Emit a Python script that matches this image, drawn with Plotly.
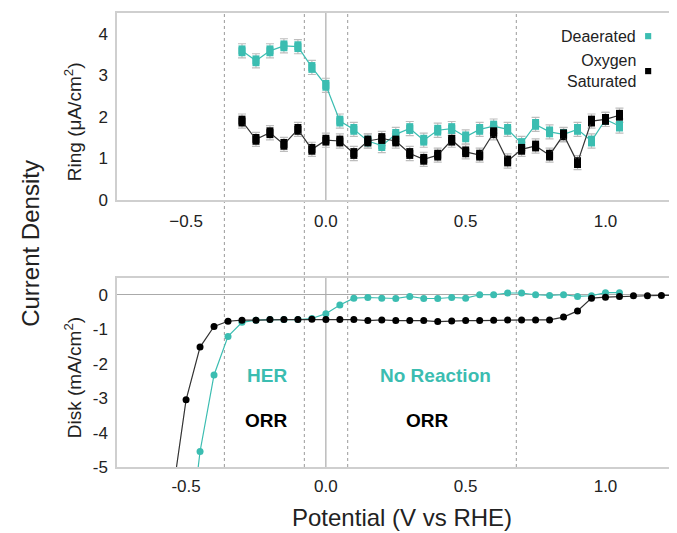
import plotly.graph_objects as go

# ---------------- data ----------------
ring_x = [-0.30, -0.25, -0.20, -0.15, -0.10, -0.05, 0.00, 0.05, 0.10, 0.15,
          0.20, 0.25, 0.30, 0.35, 0.40, 0.45, 0.50, 0.55, 0.60, 0.65,
          0.70, 0.75, 0.80, 0.85, 0.90, 0.95, 1.00, 1.05]
ring_deaerated = [3.59, 3.35, 3.59, 3.71, 3.69, 3.19, 2.76, 1.90, 1.70, 1.42,
                  1.31, 1.58, 1.72, 1.44, 1.68, 1.72, 1.52, 1.70, 1.78, 1.70,
                  1.36, 1.82, 1.64, 1.58, 1.70, 1.42, 1.94, 1.78]
ring_oxygen = [1.90, 1.46, 1.62, 1.34, 1.70, 1.22, 1.44, 1.42, 1.12, 1.42,
               1.48, 1.42, 1.12, 0.98, 1.08, 1.44, 1.16, 1.08, 1.62, 0.94,
               1.22, 1.30, 1.08, 1.57, 0.90, 1.90, 1.94, 2.04]
ring_err = 0.17

disk_oxygen_x = [-0.55, -0.50, -0.45, -0.40, -0.35, -0.30, -0.25, -0.20, -0.15, -0.10,
                 -0.05, 0.00, 0.05, 0.10, 0.15, 0.20, 0.25, 0.30, 0.35, 0.40,
                 0.45, 0.50, 0.55, 0.60, 0.65, 0.70, 0.75, 0.80, 0.85, 0.90,
                 0.95, 1.00, 1.05, 1.10, 1.15, 1.20, 1.25]
disk_oxygen = [-5.9, -3.05, -1.52, -0.92, -0.77, -0.74, -0.74, -0.72, -0.72, -0.72,
               -0.71, -0.72, -0.72, -0.72, -0.75, -0.73, -0.75, -0.75, -0.75, -0.78,
               -0.76, -0.75, -0.75, -0.74, -0.73, -0.73, -0.73, -0.73, -0.65, -0.47,
               -0.10, -0.07, -0.05, -0.03, -0.03, -0.02, -0.02]
disk_deaerated_x = [-0.50, -0.45, -0.40, -0.35, -0.30, -0.25, -0.20, -0.15, -0.10, -0.05,
                    0.00, 0.05, 0.10, 0.15, 0.20, 0.25, 0.30, 0.35, 0.40, 0.45,
                    0.50, 0.55, 0.60, 0.65, 0.70, 0.75, 0.80, 0.85, 0.90, 0.95,
                    1.00, 1.05]
disk_deaerated = [-8.0, -4.55, -2.33, -1.21, -0.80, -0.74, -0.72, -0.72, -0.72, -0.69,
                  -0.55, -0.30, -0.10, -0.08, -0.10, -0.11, -0.05, -0.11, -0.11, -0.08,
                  -0.10, 0.00, 0.00, 0.05, 0.05, 0.00, -0.02, 0.00, -0.05, -0.03,
                  0.06, 0.06]

region_bounds = [-0.363, -0.077, 0.078, 0.681]
x_ticks = [-0.5, 0.0, 0.5, 1.0]
x_ticktext_top = ["\u22120.5", "0.0", "0.5", "1.0"]
x_ticktext_bottom = ["-0.5", "0.0", "0.5", "1.0"]
ring_ticks = [0, 1, 2, 3, 4]
disk_ticks = [0, -1, -2, -3, -4, -5]
disk_ticktext = ["0", "-1", "-2", "-3", "-4", "-5"]

TEAL = "#3bbdb1"
BLACK = "#000000"
FONT = "Liberation Sans, Arial, sans-serif"
AXC = "#cfcfcf"

fig = go.Figure()

# --- ring panel: gray caps ---
for yv in (ring_deaerated, ring_oxygen):
    fig.add_trace(go.Scatter(
        x=ring_x, y=yv, mode="markers", marker=dict(size=1, opacity=0),
        error_y=dict(type="constant", value=ring_err, color="#bdbdbd",
                     thickness=1.2, width=4),
        xaxis="x", yaxis="y", showlegend=False, hoverinfo="skip"))

for yv, col, lcol in ((ring_deaerated, TEAL, TEAL), (ring_oxygen, BLACK, "#333333")):
    fig.add_trace(go.Scatter(
        x=ring_x, y=yv, mode="lines+markers",
        line=dict(color=lcol, width=1.2),
        marker=dict(symbol="square", size=7, color=col),
        error_y=dict(type="constant", value=0.13, color=col, thickness=7, width=0),
        xaxis="x", yaxis="y", showlegend=False))

# --- disk panel ---
fig.add_trace(go.Scatter(
    x=disk_deaerated_x, y=disk_deaerated, mode="lines+markers",
    line=dict(color=TEAL, width=1.2), marker=dict(size=7, color=TEAL),
    xaxis="x2", yaxis="y2", showlegend=False))
fig.add_trace(go.Scatter(
    x=disk_oxygen_x, y=disk_oxygen, mode="lines+markers",
    line=dict(color="#333333", width=1.2), marker=dict(size=7, color=BLACK),
    xaxis="x2", yaxis="y2", showlegend=False))

shapes = []
for xb in region_bounds:
    shapes.append(dict(type="line", xref="x", yref="paper", x0=xb, x1=xb, y0=0, y1=1,
                       line=dict(color="#9a9a9a", width=1, dash="dot"), layer="below"))
for yref in ("y domain", "y2 domain"):
    shapes.append(dict(type="line", xref="x", yref=yref, x0=0, x1=0, y0=0, y1=1,
                       line=dict(color="#9a9a9a", width=1), layer="below"))

# legend squares (paper coords)
for yc, col in ((0.949, TEAL), (0.872, BLACK)):
    shapes.append(dict(type="rect", xref="paper", yref="paper",
                       x0=0.9536 - 0.0055, x1=0.9536 + 0.0055,
                       y0=yc - 0.0068, y1=yc + 0.0068,
                       fillcolor=col, line=dict(width=0)))

annotations = [
    dict(text="Deaerated", xref="paper", yref="paper", x=0.936, y=0.949,
         xanchor="right", yanchor="middle", showarrow=False,
         font=dict(size=16, color="#222", family=FONT)),
    dict(text="Oxygen<br>Saturated", xref="paper", yref="paper", x=0.936, y=0.872,
         xanchor="right", yanchor="middle", align="right", showarrow=False,
         font=dict(size=16, color="#222", family=FONT)),
    dict(text="Ring (\u03bcA/cm<sup>2</sup>)", xref="paper", yref="paper",
         x=-0.0786, y=0.760, textangle=-90, showarrow=False,
         xanchor="center", yanchor="middle",
         font=dict(size=19, color="#222", family=FONT)),
    dict(text="Disk (mA/cm<sup>2</sup>)", xref="paper", yref="paper",
         x=-0.0786, y=0.196, textangle=-90, showarrow=False,
         xanchor="center", yanchor="middle",
         font=dict(size=19, color="#222", family=FONT)),
    dict(text="Current Density", xref="paper", yref="paper",
         x=-0.155, y=0.493, textangle=-90, showarrow=False,
         xanchor="center", yanchor="middle",
         font=dict(size=24, color="#222", family=FONT)),
    dict(text="Potential (V vs RHE)", xref="paper", yref="paper",
         x=0.511, y=-0.112, showarrow=False,
         xanchor="center", yanchor="middle",
         font=dict(size=24, color="#222", family=FONT)),
    dict(text="<b>HER</b>", xref="x2", yref="y2", x=-0.211, y=-2.33, showarrow=False,
         font=dict(size=19, color=TEAL, family=FONT)),
    dict(text="<b>ORR</b>", xref="x2", yref="y2", x=-0.212, y=-3.64, showarrow=False,
         font=dict(size=19, color=BLACK, family=FONT)),
    dict(text="<b>No Reaction</b>", xref="x2", yref="y2", x=0.391, y=-2.33, showarrow=False,
         font=dict(size=19, color=TEAL, family=FONT)),
    dict(text="<b>ORR</b>", xref="x2", yref="y2", x=0.362, y=-3.64, showarrow=False,
         font=dict(size=19, color=BLACK, family=FONT)),
]

axis_common = dict(showline=True, mirror=True, linecolor=AXC, linewidth=1.5,
                   showgrid=False, ticks="", tickfont=dict(size=17, color="#222", family=FONT))

# The page body has an 8px default margin, so the figure is sized/placed to
# leave the plot area where the reference has it.
fig.update_layout(
    width=669, height=525,
    margin=dict(l=109, r=1, t=5, b=66),
    paper_bgcolor="white", plot_bgcolor="white",
    showlegend=False,
    font=dict(family=FONT),
    xaxis=dict(domain=[0, 1], anchor="y", range=[-0.747, 1.245], zeroline=False,
               tickvals=x_ticks, ticktext=x_ticktext_top, ticklabelstandoff=5,
               **axis_common),
    yaxis=dict(domain=[0.588, 1], anchor="x", range=[0, 4.5], zeroline=False,
               tickvals=ring_ticks, ticklabelstandoff=4, **axis_common),
    xaxis2=dict(domain=[0, 1], anchor="y2", range=[-0.747, 1.245], zeroline=False,
                tickvals=x_ticks, ticktext=x_ticktext_bottom, ticklabelstandoff=3,
                **axis_common),
    yaxis2=dict(domain=[0, 0.4174], anchor="x2", range=[-5, 0.5],
                zeroline=True, zerolinecolor="#aaaaaa", zerolinewidth=1,
                tickvals=disk_ticks, ticktext=disk_ticktext, ticklabelstandoff=4,
                **axis_common),
    shapes=shapes,
    annotations=annotations,
)

fig.write_html("out.html")
